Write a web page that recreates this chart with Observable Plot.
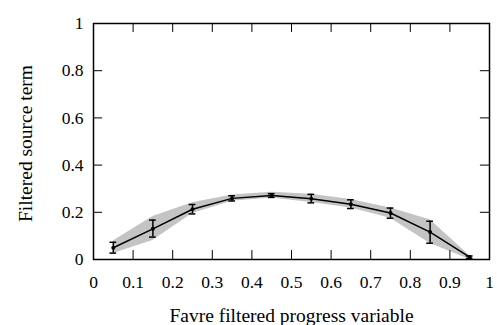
<!DOCTYPE html>
<html>
<head>
<meta charset="utf-8">
<script src="https://cdn.jsdelivr.net/npm/d3@7"></script>
<script src="https://cdn.jsdelivr.net/npm/@observablehq/plot@0.6"></script>
<style>
  html, body { margin: 0; padding: 0; background: #fff; }
  svg { display: block; }
  svg, svg text { font-family: "Liberation Serif", "Times New Roman", serif !important; }
</style>
</head>
<body>
<div id="chart"></div>
<script>
const progress = [0.05, 0.15, 0.25, 0.35, 0.45, 0.55, 0.65, 0.75, 0.85, 0.95];
const source = [0.050, 0.130, 0.213, 0.259, 0.271, 0.257, 0.234, 0.197, 0.116, 0.010];
const errLow = [0.027, 0.095, 0.193, 0.248, 0.263, 0.240, 0.216, 0.175, 0.069, 0.004];
const errHigh = [0.073, 0.167, 0.233, 0.270, 0.279, 0.276, 0.253, 0.218, 0.162, 0.015];
const bandLow = [0.025, 0.080, 0.195, 0.247, 0.261, 0.242, 0.218, 0.175, 0.068, 0.000];
const bandHigh = [0.078, 0.182, 0.240, 0.273, 0.285, 0.277, 0.254, 0.218, 0.168, 0.016];
const xTicks = [0, 0.1, 0.2, 0.3, 0.4, 0.5, 0.6, 0.7, 0.8, 0.9, 1];
const yTicks = [0, 0.2, 0.4, 0.6, 0.8, 1];
const xTitle = "Favre filtered progress variable";
const yTitle = "Filtered source term";

const data = progress.map((x, i) => ({
  x, y: source[i], lo: errLow[i], hi: errHigh[i], bl: bandLow[i], bh: bandHigh[i]
}));

const tickLenX = 0.038;  // inward tick length in y-units
const tickLenY = 0.023;  // inward tick length in x-units
const capHalf = 0.0085;

const fmt = d => d === 0 ? "0" : d === 1 ? "1" : d.toFixed(1);
const serif = "Liberation Serif";
const tickFont = 17.5;
const titleFont = 19.5;

const chart = Plot.plot({
  width: 497,
  height: 325,
  marginLeft: 93,
  marginRight: 8,
  marginTop: 23,
  marginBottom: 66,
  style: { fontFamily: serif, fontSize: "17px", color: "#000", background: "#fff" },
  x: { domain: [0, 1] },
  y: { domain: [0, 1] },
  marks: [
    Plot.areaY(data, { x: "x", y1: "bl", y2: "bh", fill: "#c4c4c4", fillOpacity: 1 }),
    Plot.line(data, { x: "x", y: "y", stroke: "#000", strokeWidth: 1.5 }),
    Plot.ruleX(data, { x: "x", y1: "lo", y2: "hi", stroke: "#000", strokeWidth: 1.5 }),
    Plot.ruleY(data, { y: "lo", x1: d => d.x - capHalf, x2: d => d.x + capHalf, stroke: "#000", strokeWidth: 1.5 }),
    Plot.ruleY(data, { y: "hi", x1: d => d.x - capHalf, x2: d => d.x + capHalf, stroke: "#000", strokeWidth: 1.5 }),
    Plot.dot(data, { x: "x", y: "y", r: 2, fill: "#000", stroke: null }),
    Plot.ruleX(xTicks.slice(1, -1), { x: d => d, y1: 0, y2: tickLenX, stroke: "#000", strokeWidth: 1 }),
    Plot.ruleX(xTicks.slice(1, -1), { x: d => d, y1: 1, y2: 1 - tickLenX, stroke: "#000", strokeWidth: 1 }),
    Plot.ruleY(yTicks.slice(1, -1), { y: d => d, x1: 0, x2: tickLenY, stroke: "#000", strokeWidth: 1 }),
    Plot.ruleY(yTicks.slice(1, -1), { y: d => d, x1: 1, x2: 1 - tickLenY, stroke: "#000", strokeWidth: 1 }),
    Plot.frame({ stroke: "#000", strokeWidth: 1.5 }),
    Plot.axisX(xTicks, { tickSize: 0, tickPadding: 16, tickFormat: fmt, label: null, fontSize: tickFont, fontFamily: serif, fill: "#000" }),
    Plot.axisY(yTicks, { tickSize: 0, tickPadding: 10, tickFormat: fmt, label: null, fontSize: tickFont, fontFamily: serif, fill: "#000" }),
    Plot.text([xTitle], { frameAnchor: "bottom", textAnchor: "middle", lineAnchor: "middle", dy: 56, fontSize: titleFont, fontFamily: serif, fill: "#000" }),
    Plot.text([yTitle], { frameAnchor: "left", textAnchor: "middle", lineAnchor: "middle", dx: -68, dy: 2, rotate: -90, fontSize: titleFont, fontFamily: serif, fill: "#000" })
  ]
});
document.getElementById("chart").appendChild(chart);
</script>
</body>
</html>
